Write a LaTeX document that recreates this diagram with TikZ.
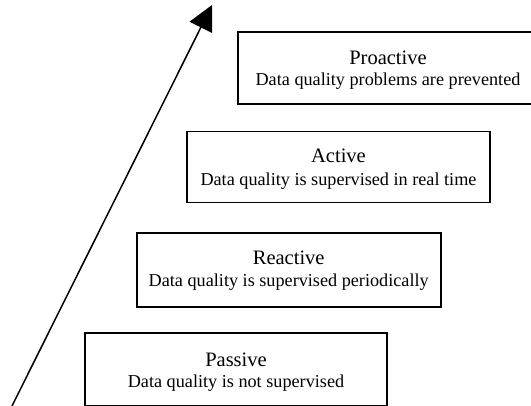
\documentclass[tikz,border=0pt]{standalone}
\usepackage{fontspec}
\setmainfont{Liberation Serif}
\usetikzlibrary{arrows.meta}
\tikzset{
  levelbox/.style={draw, line width=1.8pt, inner sep=0pt, fill=white},
  titletext/.style={anchor=base, inner sep=0pt, font=\fontsize{20.5}{24}\selectfont},
  subtext/.style={anchor=base, inner sep=0pt, font=\fontsize{18.2}{22}\selectfont},
  growth/.style={line width=1.5pt, -{Triangle[length=25pt,width=25pt]}}
}
\begin{document}
\begin{tikzpicture}[x=1pt,y=-1pt]
\clip (0,0) rectangle (531,405);
\fill[white] (0,0) rectangle (531,405);
% boxes
\node[levelbox, minimum width=300pt, minimum height=72pt] (pro) at (388,68.3) {};
\node[levelbox, minimum width=303pt, minimum height=71pt] (act) at (338.5,167) {};
\node[levelbox, minimum width=304pt, minimum height=74pt] (rea) at (288.7,269.7) {};
\node[levelbox, minimum width=302pt, minimum height=73pt] (pas) at (236,369.8) {};
% texts
\node[titletext] (proT) at ([yshift=-33.5pt]pro.north) {Proactive};
\node[subtext] (proS) at ([yshift=-54pt]pro.north) {Data quality problems are prevented};
\node[titletext] (actT) at ([yshift=-31.5pt]act.north) {Active};
\node[subtext] (actS) at ([yshift=-54.5pt]act.north) {Data quality is supervised in real time};
\node[titletext] (reaT) at ([yshift=-33pt]rea.north) {Reactive};
\node[subtext] (reaS) at ([yshift=-55pt]rea.north) {Data quality is supervised periodically};
\node[titletext] (pasT) at ([yshift=-34pt]pas.north) {Passive};
\node[subtext] (pasS) at ([yshift=-55pt]pas.north) {Data quality is not supervised};
% arrow
\coordinate (arrS) at (12,406);
\coordinate (arrE) at (212,5);
\draw[growth] (arrS) -- (arrE);
\end{tikzpicture}
\end{document}
